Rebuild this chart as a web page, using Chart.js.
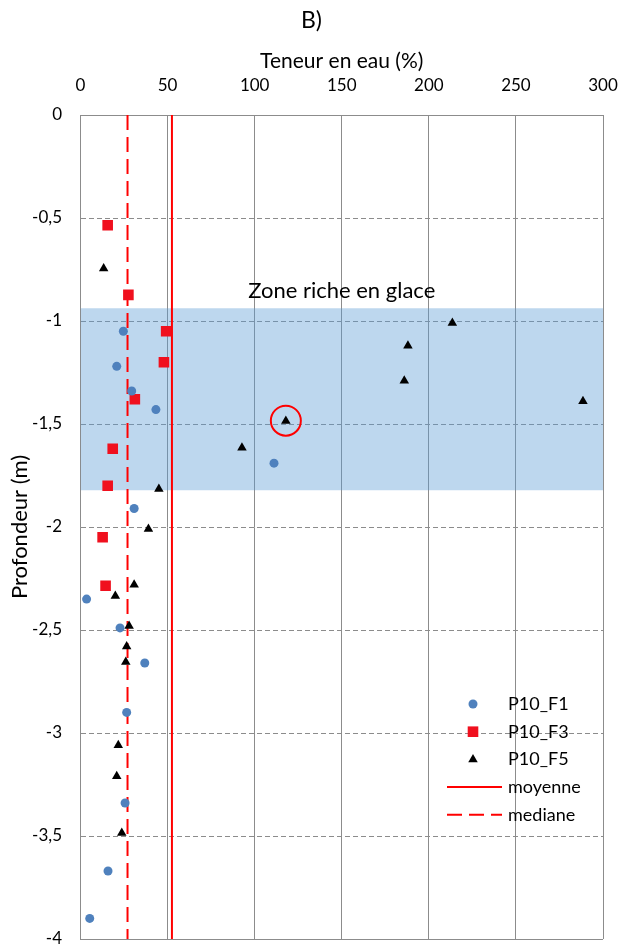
<!DOCTYPE html>
<html>
<head>
<meta charset="utf-8">
<script src="https://cdn.jsdelivr.net/npm/chart.js@4.4.1/dist/chart.umd.min.js"></script>
<style>
html,body{margin:0;padding:0;background:#fff;}
#c{display:block;}
</style>
</head>
<body>
<canvas id="c" width="623" height="945"></canvas>
<script>
// ---- data (water content %, depth m) ----
const f1Water = [24.6, 20.8, 29.4, 43.3, 111.1, 30.8, 3.5, 22.7, 36.9, 26.5, 25.6, 15.8, 5.3];
const f1Depth = [-1.05, -1.22, -1.34, -1.43, -1.69, -1.91, -2.35, -2.49, -2.66, -2.90, -3.34, -3.67, -3.90];

const f3Water = [15.6, 27.5, 49.2, 47.9, 31.2, 18.5, 15.6, 12.7, 14.4];
const f3Depth = [-0.535, -0.873, -1.05, -1.20, -1.38, -1.62, -1.80, -2.05, -2.285];

const f5Water = [13.3, 213.5, 188.0, 185.9, 288.5, 117.9, 92.7, 45.0, 39.0, 30.8, 20.0, 27.9, 26.5, 26.0, 21.7, 20.8, 23.7];
const f5Depth = [-0.745, -1.01, -1.12, -1.29, -1.39, -1.485, -1.615, -1.815, -2.01, -2.28, -2.335, -2.48, -2.58, -2.655, -3.06, -3.21, -3.485];

const meanWater = 52.5;
const medianWater = 27.0;
const depthRange = [0, -4];

const highlightWater = [117.9];
const highlightDepth = [-1.484];

const zoneDepths = [-0.938, -1.822];   // top, bottom of the ice-rich zone
const zoneLabel = 'Zone riche en glace';
const zoneLabelPos = [150, -0.855];

const xTickValues = [0, 50, 100, 150, 200, 250, 300];
const yTickValues = [0, -0.5, -1, -1.5, -2, -2.5, -3, -3.5, -4];
const yTickLabels = ['0', '-0,5', '-1', '-1,5', '-2', '-2,5', '-3', '-3,5', '-4'];

const seriesLabels = ['P10_F1', 'P10_F3', 'P10_F5', 'moyenne', 'mediane'];

const zip = (xs, ys) => xs.map((x, i) => ({x: x, y: ys[i]}));

Chart.defaults.font.family = 'Lato, "Open Sans", sans-serif';
Chart.defaults.color = '#000';

const legendPlugin = {
  id: 'insideLegend',
  afterDraw(chart) {
    const ctx = chart.ctx;
    const area = chart.chartArea;
    const textX = area.right - 95;
    const markX = area.right - 130;
    const lineX0 = area.right - 156, lineX1 = area.right - 101;
    const y0 = 704, dy = 27.7;
    ctx.save();
    ctx.font = '18px Lato, "Open Sans", sans-serif';
    ctx.textBaseline = 'middle';
    ctx.textAlign = 'left';
    let row = 0;
    chart.data.datasets.forEach(ds => {
      if (!seriesLabels.includes(ds.label)) return;
      const y = y0 + row * dy;
      if (ds.type === 'line') {
        ctx.save();
        ctx.strokeStyle = ds.borderColor;
        ctx.lineWidth = ds.borderWidth;
        ctx.setLineDash(ds.borderDash || []);
        ctx.beginPath(); ctx.moveTo(lineX0, y); ctx.lineTo(lineX1, y); ctx.stroke();
        ctx.restore();
      } else {
        ctx.save();
        ctx.fillStyle = ds.backgroundColor;
        ctx.strokeStyle = ds.borderColor;
        Chart.helpers.drawPoint(ctx, {pointStyle: ds.pointStyle, radius: ds.pointRadius, rotation: 0, borderWidth: 0}, markX, y);
        ctx.restore();
      }
      ctx.fillStyle = '#000';
      ctx.fillText(ds.label, textX, y);
      row++;
    });
    ctx.restore();
  }
};

const zoneTextPlugin = {
  id: 'zoneText',
  afterDatasetsDraw(chart) {
    const ctx = chart.ctx;
    const x = chart.scales.x.getPixelForValue(zoneLabelPos[0]);
    const y = chart.scales.y.getPixelForValue(zoneLabelPos[1]);
    ctx.save();
    ctx.font = '22px Lato, "Open Sans", sans-serif';
    ctx.fillStyle = '#000';
    ctx.textAlign = 'center';
    ctx.textBaseline = 'middle';
    ctx.fillText(zoneLabel, x, y);
    ctx.restore();
  }
};

const dashFor = (c) => (c && c.tick && c.tick.value !== 0 && c.tick.value !== -4) ? [5, 3] : [];

new Chart(document.getElementById('c'), {
  type: 'scatter',
  data: {
    datasets: [
      {label: seriesLabels[0], data: zip(f1Water, f1Depth), pointStyle: 'circle', pointRadius: 4.5,
       backgroundColor: '#4f81bd', borderColor: '#4f81bd', borderWidth: 0},
      {label: seriesLabels[1], data: zip(f3Water, f3Depth), pointStyle: 'rect', pointRadius: 7.5,
       backgroundColor: '#f0101e', borderColor: '#f0101e', borderWidth: 0},
      {label: seriesLabels[2], data: zip(f5Water, f5Depth), pointStyle: 'triangle', pointRadius: 5.5,
       backgroundColor: '#000000', borderColor: '#000000', borderWidth: 0},
      {label: seriesLabels[3], type: 'line', data: zip([meanWater, meanWater], depthRange),
       borderColor: '#ff0000', borderWidth: 2, pointRadius: 0, fill: false},
      {label: seriesLabels[4], type: 'line', data: zip([medianWater, medianWater], depthRange),
       borderColor: '#ff0000', borderWidth: 2, borderDash: [15, 7], pointRadius: 0, fill: false},
      {label: 'highlight', data: zip(highlightWater, highlightDepth), pointStyle: 'circle', pointRadius: 15,
       backgroundColor: 'rgba(0,0,0,0)', borderColor: '#ff0000', borderWidth: 2},
      {label: 'zone', type: 'line', data: zip([0, 300], [zoneDepths[0], zoneDepths[0]]),
       fill: {value: zoneDepths[1]}, backgroundColor: 'rgba(91,155,213,0.4)', borderWidth: 0, pointRadius: 0, order: 10}
    ]
  },
  options: {
    responsive: false,
    animation: false,
    events: [],
    layout: {autoPadding: false, padding: {left: 0, right: 0, top: 0, bottom: 0}},
    plugins: {
      legend: {display: false},
      tooltip: {enabled: false},
      filler: {drawTime: 'beforeDatasetsDraw'},
      title: {display: true, text: 'B)', font: {size: 23, weight: 'normal'}, color: '#000', padding: {top: 7, bottom: 0}}
    },
    scales: {
      x: {
        type: 'linear', position: 'top', min: 0, max: 300,
        afterBuildTicks: (s) => { s.ticks = xTickValues.map(v => ({value: v})); },
        ticks: {font: {size: 17}, padding: 19, color: '#000'},
        grid: {color: '#8c8c8c', lineWidth: 1, drawTicks: false},
        border: {display: true, color: '#8c8c8c'},
        title: {display: true, text: 'Teneur en eau (%)', font: {size: 21}, color: '#000', padding: {top: 14, bottom: 0}},
        afterFit: (s) => { s.height = 80.4; s.paddingLeft = 0; s.paddingRight = 0; }
      },
      y: {
        type: 'linear', position: 'left', min: -4, max: 0,
        afterBuildTicks: (s) => { s.ticks = yTickValues.map(v => ({value: v})); },
        ticks: {font: {size: 17}, padding: 18.5, color: '#000',
          callback: (v) => { const i = yTickValues.indexOf(v); return i >= 0 ? yTickLabels[i] : ''; }},
        grid: {color: '#8c8c8c', lineWidth: 1, drawTicks: false, borderDash: dashFor},
        border: {display: true, color: '#8c8c8c', dash: dashFor},
        title: {display: true, text: 'Profondeur (m)', font: {size: 22}, color: '#000', padding: {top: 7, bottom: 0}},
        afterFit: (s) => { s.width = 80.5; s.paddingBottom = 6; s.paddingTop = 0; }
      },
      yRight: {
        type: 'linear', position: 'right', display: true,
        ticks: {display: false}, grid: {display: false}, border: {display: false},
        afterFit: (s) => { s.width = 20; s.paddingBottom = 0; s.paddingTop = 0; s.paddingLeft = 0; s.paddingRight = 0; }
      }
    }
  },
  plugins: [legendPlugin, zoneTextPlugin]
});
</script>
</body>
</html>
